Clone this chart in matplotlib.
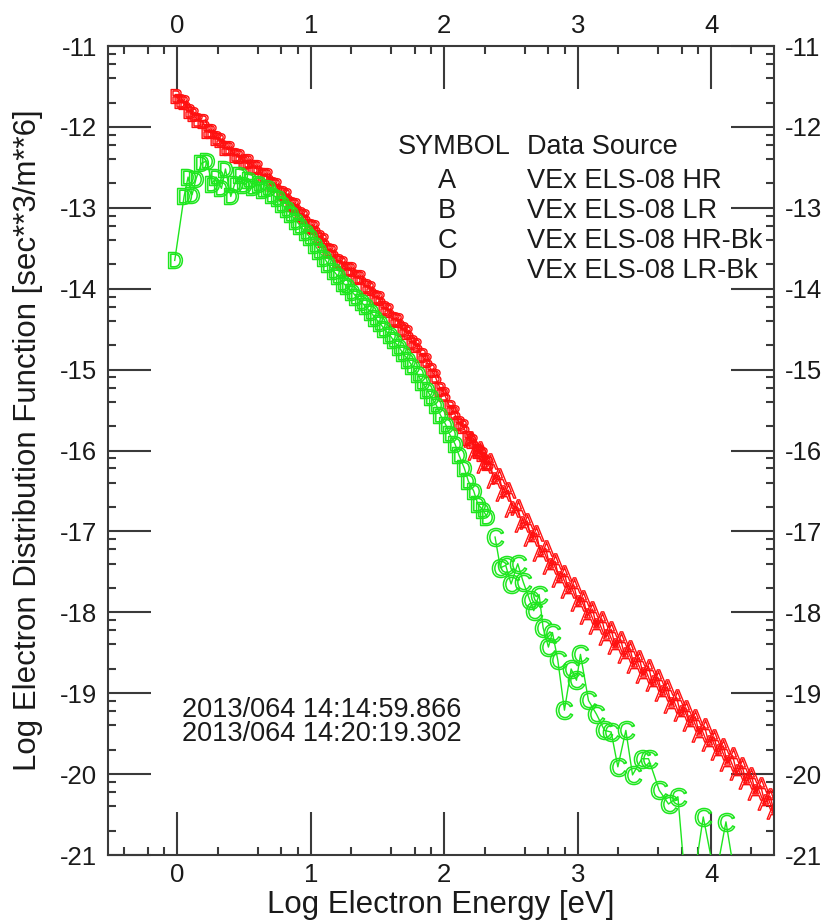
import matplotlib
matplotlib.use('Agg')
import matplotlib.pyplot as plt
import numpy as np

plt.rcParams['font.family'] = ['Liberation Sans', 'DejaVu Sans']
plt.rcParams['mathtext.fontset'] = 'custom'
plt.rcParams['mathtext.rm'] = 'Liberation Sans'
plt.rcParams['axes.unicode_minus'] = False

# ---------------- data (log10 energy [eV], log10 f) ----------------
# B: VEx ELS-08 LR (red)
b_x = [-0.01, 0.02, 0.05, 0.09, 0.12, 0.15, 0.19, 0.22, 0.25, 0.29, 0.32, 0.36, 0.39, 0.43,
       0.46, 0.50, 0.53, 0.57, 0.60, 0.64, 0.67, 0.71, 0.74, 0.78, 0.81, 0.85, 0.88, 0.92,
       0.95, 0.99, 1.02, 1.06, 1.09, 1.13, 1.16, 1.20, 1.23, 1.27, 1.30, 1.34, 1.37, 1.41,
       1.44, 1.48, 1.51, 1.55, 1.58, 1.62, 1.65, 1.69, 1.72, 1.76, 1.79, 1.83, 1.86, 1.90,
       1.93, 1.97, 2.00, 2.04, 2.07, 2.11, 2.14, 2.18, 2.21, 2.25, 2.28, 2.32]
b_y = [-11.62, -11.68, -11.69, -11.80, -11.84, -11.92, -11.93, -12.05, -12.05, -12.14, -12.16,
       -12.26, -12.26, -12.35, -12.36, -12.43, -12.42, -12.49, -12.50, -12.60, -12.60, -12.70,
       -12.72, -12.82, -12.84, -12.95, -12.97, -13.08, -13.10, -13.22, -13.24, -13.36, -13.40,
       -13.52, -13.54, -13.66, -13.68, -13.76, -13.76, -13.86, -13.86, -13.97, -13.99, -14.10,
       -14.12, -14.24, -14.26, -14.37, -14.39, -14.50, -14.53, -14.66, -14.70, -14.82, -14.88,
       -15.00, -15.08, -15.24, -15.30, -15.46, -15.52, -15.66, -15.70, -15.84, -15.88, -16.01,
       -16.04, -16.16]

# A: VEx ELS-08 HR (red)
a_x = [2.20, 2.23, 2.27, 2.30, 2.34, 2.37, 2.41, 2.44, 2.48, 2.51, 2.55, 2.58, 2.62, 2.65,
       2.69, 2.72, 2.76, 2.79, 2.83, 2.86, 2.90, 2.93, 2.97, 3.00, 3.04, 3.07, 3.11, 3.14,
       3.18, 3.21, 3.25, 3.28, 3.32, 3.35, 3.39, 3.42, 3.46, 3.49, 3.53, 3.56, 3.60, 3.63,
       3.67, 3.70, 3.74, 3.77, 3.81, 3.84, 3.88, 3.91, 3.95, 3.98, 4.02, 4.05, 4.09, 4.12,
       4.16, 4.19, 4.23, 4.26, 4.30, 4.33, 4.37, 4.40, 4.44, 4.47]
a_y = [-15.86, -16.02, -15.98, -16.18, -16.13, -16.36, -16.31, -16.53, -16.49, -16.72, -16.70,
       -16.91, -16.87, -17.08, -17.02, -17.27, -17.21, -17.43, -17.37, -17.59, -17.52, -17.73,
       -17.66, -17.88, -17.82, -18.04, -17.96, -18.17, -18.08, -18.30, -18.21, -18.42, -18.33,
       -18.53, -18.44, -18.65, -18.56, -18.77, -18.67, -18.88, -18.80, -19.00, -18.92, -19.14,
       -19.05, -19.25, -19.18, -19.37, -19.29, -19.50, -19.41, -19.61, -19.54, -19.73, -19.65,
       -19.86, -19.77, -19.98, -19.89, -20.09, -20.01, -20.22, -20.14, -20.35, -20.27, -20.46]

# D: VEx ELS-08 LR-Bk (green)
d_x = [-0.02, 0.05, 0.08, 0.11, 0.14, 0.18, 0.22, 0.26, 0.29, 0.33, 0.36, 0.40, 0.43, 0.47,
       0.50, 0.54, 0.57, 0.61, 0.64, 0.68, 0.71, 0.75, 0.78, 0.82, 0.85, 0.89, 0.92, 0.96,
       0.99, 1.03, 1.06, 1.10, 1.13, 1.17, 1.20, 1.24, 1.27, 1.31, 1.34, 1.38, 1.41, 1.45,
       1.48, 1.52, 1.55, 1.59, 1.62, 1.66, 1.69, 1.73, 1.76, 1.80, 1.83, 1.87, 1.90, 1.94,
       1.97, 2.01, 2.04, 2.08, 2.11, 2.15, 2.18, 2.22, 2.25, 2.29, 2.32]
d_y = [-13.65, -12.86, -12.62, -12.84, -12.64, -12.45, -12.42, -12.70, -12.62, -12.76, -12.52,
       -12.86, -12.70, -12.60, -12.72, -12.66, -12.74, -12.71, -12.78, -12.76, -12.84, -12.88,
       -12.95, -13.02, -13.08, -13.16, -13.22, -13.30, -13.36, -13.46, -13.54, -13.62, -13.70,
       -13.78, -13.84, -13.93, -13.97, -14.04, -14.10, -14.17, -14.22, -14.29, -14.36, -14.43,
       -14.50, -14.57, -14.64, -14.72, -14.80, -14.88, -14.96, -15.06, -15.15, -15.25, -15.34,
       -15.44, -15.56, -15.68, -15.80, -15.92, -16.06, -16.22, -16.38, -16.50, -16.66, -16.74,
       -16.82]

# C: VEx ELS-08 HR-Bk (green)
c_x = [2.38, 2.42, 2.46, 2.50, 2.55, 2.59, 2.64, 2.67, 2.71, 2.74, 2.78, 2.81, 2.85, 2.90,
       2.95, 2.99, 3.02, 3.08, 3.14, 3.20, 3.25, 3.30, 3.36, 3.41, 3.48, 3.53, 3.61, 3.68,
       3.75, 3.80, 3.87, 3.94, 4.03, 4.11, 4.17]
c_y = [-17.07, -17.45, -17.42, -17.65, -17.40, -17.62, -17.85, -17.98, -17.78, -18.19, -18.43,
       -18.25, -18.59, -19.21, -18.70, -18.84, -18.52, -19.09, -19.26, -19.46, -19.48, -19.91,
       -19.46, -20.01, -19.81, -19.81, -20.20, -20.37, -20.28, -21.25, -21.30, -20.53, -21.30,
       -20.59, -21.20]

legend_symbols = ['A', 'B', 'C', 'D']
legend_sources = ['VEx ELS-08 HR', 'VEx ELS-08 LR', 'VEx ELS-08 HR-Bk', 'VEx ELS-08 LR-Bk']
time_lines = ['2013/064 14:14:59.866', '2013/064 14:20:19.302']
x_major = [0, 1, 2, 3, 4]
y_major = [-21, -20, -19, -18, -17, -16, -15, -14, -13, -12, -11]

# ---------------- figure ----------------
W, H = 831, 922
fig = plt.figure(figsize=(W / 100, H / 100), dpi=100)
L, R, T, B = 108, 774, 46, 855
ax = fig.add_axes([L / W, 1 - B / H, (R - L) / W, (B - T) / H])
ax.set_xlim(-0.52, 4.47)
ax.set_ylim(-21, -11)

red = '#ff1010'
green = '#1ee61e'

ax.plot(b_x, b_y, color=red, lw=1.0, zorder=2)
ax.plot(a_x, a_y, color=red, lw=1.0, zorder=2)
ax.plot(d_x, d_y, color=green, lw=1.0, zorder=3)
ax.plot(c_x, c_y, color=green, lw=1.0, zorder=3)

ax.plot(b_x, b_y, ls='none', marker=r'$\mathrm{B}$', ms=10, color='none',
        mec=red, mew=1.0, zorder=2)
ax.plot(a_x, a_y, ls='none', marker=r'$\mathrm{A}$', ms=11, color='none',
        mec=red, mew=1.0, zorder=2)
ax.plot(d_x, d_y, ls='none', marker=r'$\mathrm{D}$', ms=11.5, color='none',
        mec=green, mew=1.1, zorder=3)
ax.plot(c_x, c_y, ls='none', marker=r'$\mathrm{C}$', ms=13, color='none',
        mec=green, mew=1.1, zorder=3)

# ticks
ax.set_xticks(x_major)
ax.set_yticks(y_major)
xminor = [n + np.log10(k) for n in range(-1, 5) for k in (2, 4, 6, 8)]
xminor = [v for v in xminor if -0.52 < v < 4.47]
yminor = [n + np.log10(k) for n in range(-21, -11) for k in (2, 4, 6, 8)]
ax.set_xticks(xminor, minor=True)
ax.set_yticks(yminor, minor=True)
ax.tick_params(which='both', direction='in', top=True, right=True,
               labeltop=True, labelright=True, color='#3a3a3a', width=1.5,
               labelsize=18.5, labelcolor='#1a1a1a')
ax.tick_params(which='major', length=31)
ax.tick_params(which='minor', length=6)
ax.tick_params(axis='x', which='major', pad=6)
ax.tick_params(axis='y', which='major', pad=8)
for s in ax.spines.values():
    s.set_linewidth(1.5)
    s.set_color('#3a3a3a')

fig.text(441 / W, 1 - 905 / H, 'Log Electron Energy [eV]', ha='center', va='center',
         fontsize=22.5, color='#1a1a1a')
fig.text(28 / W, 1 - 440 / H, 'Log Electron Distribution Function [sec**3/m**6]',
         ha='center', va='center', rotation=90, fontsize=22.5, color='#1a1a1a')

# legend block
fs = 19.5
fig.text(398 / W, 1 - 147 / H, 'SYMBOL', ha='left', va='center', fontsize=fs, color='#1a1a1a')
fig.text(527 / W, 1 - 147 / H, 'Data Source', ha='left', va='center', fontsize=fs, color='#1a1a1a')
for i, (sym, src) in enumerate(zip(legend_symbols, legend_sources)):
    yy = 181 + 30 * i
    fig.text(447 / W, 1 - yy / H, sym, ha='center', va='center', fontsize=fs, color='#1a1a1a')
    fig.text(527 / W, 1 - yy / H, src, ha='left', va='center', fontsize=fs, color='#1a1a1a')

fig.text(182 / W, 1 - 722 / H, '\n'.join(time_lines), ha='left', va='center', fontsize=fs,
         linespacing=0.88, color='#1a1a1a')

fig.savefig('out.png', dpi=100)
